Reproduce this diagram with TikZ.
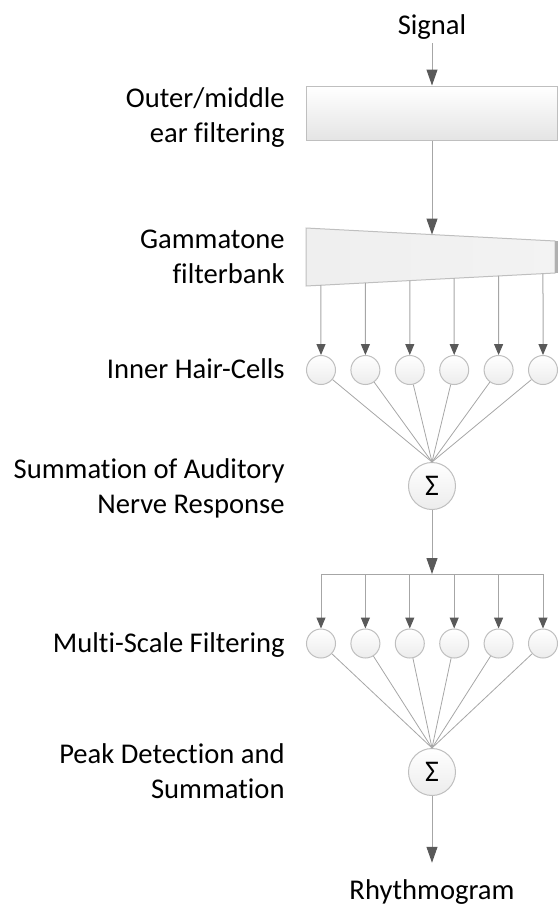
\documentclass[tikz,border=0pt]{standalone}
\usepackage{fontspec}
\setmainfont[Ligatures=NoCommon]{Carlito}
\usetikzlibrary{arrows.meta,calc}
\definecolor{linegray}{HTML}{A6A6A6}
\definecolor{tipgray}{HTML}{595959}
\definecolor{boxedge}{HTML}{BFBFBF}
\definecolor{boxfill}{HTML}{E4E4E4}
\definecolor{sideface}{HTML}{B0B0B0}
\tikzset{
  flow/.style={draw=linegray, line width=0.5pt, -{Triangle[length=8pt,width=5.5pt,color=tipgray]}},
  branch/.style={draw=linegray, line width=0.5pt, -{Triangle[length=5.5pt,width=4.5pt,color=tipgray]}},
  wire/.style={draw=linegray, line width=0.4pt},
  cell/.style={circle, draw=boxedge, line width=0.5pt, top color=white, bottom color=boxfill!70, minimum size=14.5pt, inner sep=0pt},
  summer/.style={cell, minimum size=23.5pt, font=\fontsize{15}{17.5}\selectfont},
  stage/.style={anchor=base east, align=right, inner sep=0pt, font=\fontsize{14.3}{17.5}\selectfont},
  endlabel/.style={anchor=base, inner sep=2pt, font=\fontsize{14.3}{17.5}\selectfont}
}

\begin{document}
\begin{tikzpicture}[x=0.5pt, y=-0.5pt]
            \useasboundingbox (0,0) rectangle (558,907);

            % Input signal and outer/middle ear box
            \node[endlabel] (signal) at (432,34) {Signal};
            \node[rectangle, draw=boxedge, line width=0.5pt, top color=white, bottom color=boxfill,
                  minimum width=125.5pt, minimum height=27pt, inner sep=0pt] (outer) at (431.5,113) {};
            \draw[flow] (signal) -- (signal |- outer.north);

            % Gammatone filterbank (trapezoid)
            \coordinate (tl) at (306,228);
            \coordinate (tr) at (555,241);
            \coordinate (br) at (555,273);
            \coordinate (bl) at (306,286);
            \shadedraw[draw=boxedge, line width=0.5pt, left color=boxfill!60, middle color=white, right color=boxfill!45]
                (tl) -- (tr) -- (br) -- (bl) -- cycle;
            \fill[sideface] (555,241) rectangle (558,273);
            \coordinate (bankin) at (432,234.6);
            \draw[flow] (outer.south -| signal) -- (bankin);

            % Summation nodes
            \node[summer] (sum1) at (432,486) {Σ};
            \node[summer] (sum2) at (432,772) {Σ};

            % Inner hair cells and multi-scale filters
            \coordinate (busmid) at (432,574);
            \foreach \i in {0,...,5} {
                \pgfmathsetmacro{\xx}{321+44.4*\i}
                \coordinate (out\i) at ($(bl)!{(\xx-306)/249}!(br)$);
                \node[cell] (hc\i) at (\xx,370) {};
                \node[cell] (mc\i) at (\xx,643.5) {};
                \draw[branch] (out\i) -- (hc\i);
                \draw[wire] (hc\i) -- (sum1.north);
                \draw[branch] (mc\i |- busmid) -- (mc\i);
                \draw[wire] (mc\i) -- (sum2.north);
            }
            \draw[flow] (sum1) -- (busmid);
            \draw[wire] (mc0 |- busmid) -- (mc5 |- busmid);

            % Output
            \node[endlabel] (rhythm) at (432,899) {Rhythmogram};
            \draw[flow, shorten >=6pt] (sum2) -- (rhythm);

            % Stage labels
            \node[stage] (lblouter) at (285,142) {Outer/middle\\ear filtering};
            \node[stage] (lblgamma) at (285,283) {Gammatone\\filterbank};
            \node[stage] (lblihc) at (285,378) {Inner Hair-Cells};
            \node[stage] (lblsum) at (285,513) {Summation of Auditory\\Nerve Response};
            \node[stage] (lblmsf) at (285,652) {Multi-Scale Filtering};
            \node[stage] (lblpeak) at (285,798) {Peak Detection and\\Summation};
        \end{tikzpicture}
\end{document}
